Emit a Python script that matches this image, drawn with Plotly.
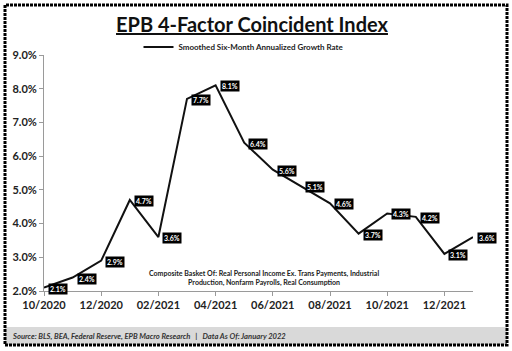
import plotly.graph_objects as go

months = ["10/2020", "11/2020", "12/2020", "01/2021", "02/2021", "03/2021", "04/2021", "05/2021",
          "06/2021", "07/2021", "08/2021", "09/2021", "10/2021", "11/2021", "12/2021", "01/2022"]
growth = [2.1, 2.4, 2.9, 4.7, 3.6, 7.7, 8.1, 6.4, 5.6, 5.1, 4.6, 3.7, 4.3, 4.2, 3.1, 3.6]
tick_months = months[0::2]
y_ticks = [2, 3, 4, 5, 6, 7, 8, 9]
y_tick_labels = [f"{v:.1f}%" for v in y_ticks]

series_name = "Smoothed Six-Month Annualized Growth Rate"
title_text = "EPB 4-Factor Coincident Index"
note_text = ("Composite Basket Of: Real Personal Income Ex. Trans Payments, Industrial<br>"
             "Production, Nonfarm Payrolls, Real Consumption")
source_text = "Source: BLS, BEA, Federal Reserve, EPB Macro Research   |   Data As Of: January 2022"

W, H = 512, 351
L, R, T, B = 44, 39, 55, 60
PW, PH = W - L - R, H - T - B

def px(xp):
    return (xp - L) / PW

def py(yp):
    return (H - B - yp) / PH

FONT = "Lato"

fig = go.Figure()
fig.add_trace(go.Scatter(
    x=months, y=growth, mode="lines", name=series_name,
    line=dict(color="#111111", width=2), showlegend=True,
))

for m, v in zip(months, growth):
    fig.add_annotation(
        x=m, y=v, xref="x", yref="y", text=f"{v:.1f}%", showarrow=False,
        xshift=14, yshift=-1, xanchor="center", yanchor="middle",
        bgcolor="#000000", borderpad=1,
        font=dict(family=FONT, size=7, color="white", weight="bold"),
    )

fig.add_annotation(
    x=px(264), y=py(278), xref="paper", yref="paper", text=note_text, showarrow=False,
    xanchor="center", yanchor="middle", align="center",
    font=dict(family=FONT, size=7, color="#222222", weight="bold"),
)

fig.add_annotation(
    x=px(10), y=py(336), xref="paper", yref="paper", text="<i>" + source_text + "</i>",
    showarrow=False, xanchor="left", yanchor="middle",
    font=dict(family=FONT, size=7.6, color="#333333", weight="bold"),
)

# footer band and dotted frame
fig.add_shape(type="rect", xref="paper", yref="paper", x0=px(5), x1=px(507), y0=py(345), y1=py(327),
              fillcolor="#d9d9d9", line=dict(width=0), layer="below")
fig.add_shape(type="rect", xref="paper", yref="paper", x0=px(5), x1=px(507), y0=py(345), y1=py(5),
              fillcolor="rgba(0,0,0,0)", line=dict(color="#000000", width=3, dash="3px,1px"))

fig.update_layout(
    width=W, height=H,
    margin=dict(l=L, r=R, t=T, b=B),
    paper_bgcolor="white", plot_bgcolor="white",
    title=dict(text="<u>" + title_text + "</u>", x=252 / W, xref="container", xanchor="center",
               y=1 - 25 / H, yanchor="middle",
               font=dict(family=FONT, size=20, color="#111111", weight="bold")),
    legend=dict(orientation="h", x=px(244), xanchor="center", y=py(47), yanchor="middle",
                font=dict(family=FONT, size=8, color="#222222", weight="bold"),
                bgcolor="rgba(0,0,0,0)"),
    xaxis=dict(type="category", categoryorder="array", categoryarray=months,
               range=[0, len(months) - 1], tickmode="array", tickvals=tick_months, ticktext=tick_months,
               showgrid=False, zeroline=False, showline=True, linecolor="#9a9a9a", linewidth=1,
               ticks="outside", ticklen=4, tickcolor="#9a9a9a",
               tickfont=dict(family=FONT, size=11, color="#222222", weight="bold")),
    yaxis=dict(range=[2, 9], tickmode="array", tickvals=y_ticks, ticktext=y_tick_labels,
               showgrid=False, zeroline=False, showline=True, linecolor="#9a9a9a", linewidth=1,
               ticks="outside", ticklen=4, tickcolor="#9a9a9a",
               tickfont=dict(family=FONT, size=11, color="#222222", weight="bold")),
)

fig.write_html("out.html")
